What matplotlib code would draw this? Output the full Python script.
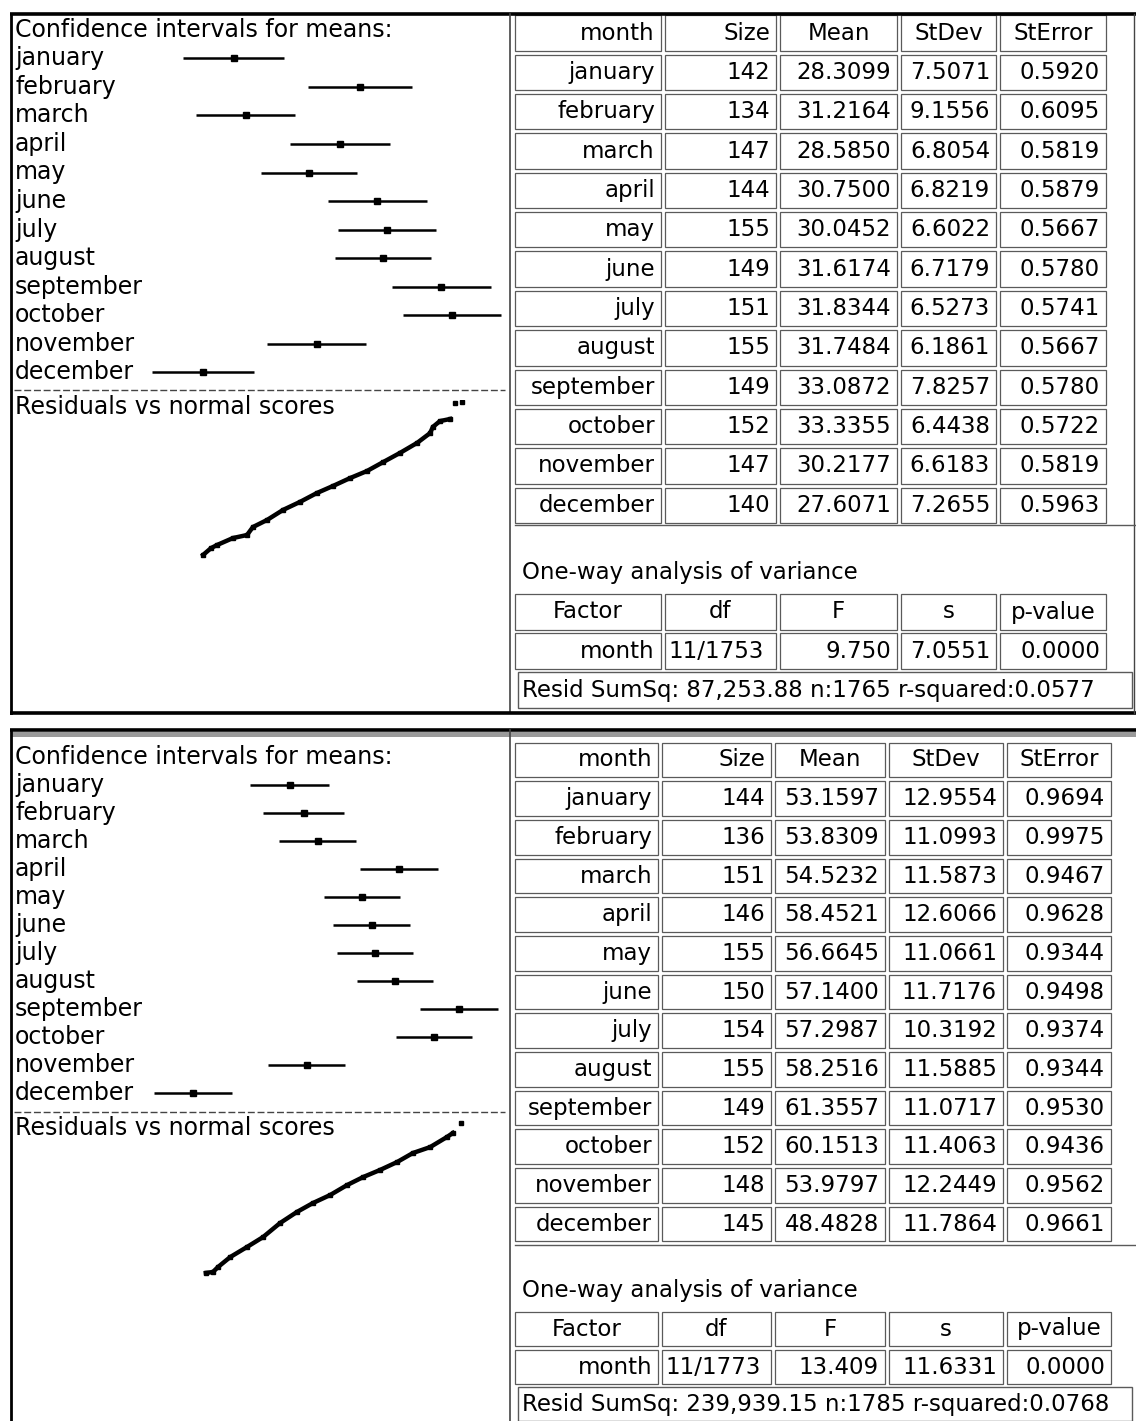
import matplotlib
matplotlib.use("Agg")
import matplotlib.pyplot as plt
from matplotlib import transforms
from matplotlib.patches import Rectangle

plt.rcParams['font.family'] = ['DejaVu Sans']

# ---------------------------------------------------------------- data
months = ["january", "february", "march", "april", "may", "june", "july",
          "august", "september", "october", "november", "december"]
table_headers = ["month", "Size", "Mean", "StDev", "StError"]
anova_headers = ["Factor", "df", "F", "s", "p-value"]

# first analysis
a_size = [142, 134, 147, 144, 155, 149, 151, 155, 149, 152, 147, 140]
a_mean = [28.3099, 31.2164, 28.5850, 30.7500, 30.0452, 31.6174, 31.8344,
          31.7484, 33.0872, 33.3355, 30.2177, 27.6071]
a_sd = [7.5071, 9.1556, 6.8054, 6.8219, 6.6022, 6.7179, 6.5273, 6.1861,
        7.8257, 6.4438, 6.6183, 7.2655]
a_se = [0.5920, 0.6095, 0.5819, 0.5879, 0.5667, 0.5780, 0.5741, 0.5667,
        0.5780, 0.5722, 0.5819, 0.5963]
a_anova = ["11/1753", 9.750, 7.0551, 0.0000]
a_resid = ["87,253.88", 1765, 0.0577]
# residuals vs normal scores (normal score, residual)
a_qq_z = [-3.30, -3.10, -2.95, -2.54, -2.18, -2.03, -1.67, -1.26, -0.83, -0.40,
          0.01, 0.45, 0.88, 1.29, 1.72, 2.16, 2.49, 2.56, 2.74, 3.00, 3.12, 3.30]
a_qq_r = [-22.5, -20.3, -19.3, -17.0, -16.0, -13.4, -11.1, -7.8, -5.2, -2.3,
          0.0, 2.6, 4.9, 7.8, 10.8, 14.1, 17.3, 19.3, 21.2, 21.9, 27.1, 27.5]

# second analysis
b_size = [144, 136, 151, 146, 155, 150, 154, 155, 149, 152, 148, 145]
b_mean = [53.1597, 53.8309, 54.5232, 58.4521, 56.6645, 57.1400, 57.2987,
          58.2516, 61.3557, 60.1513, 53.9797, 48.4828]
b_sd = [12.9554, 11.0993, 11.5873, 12.6066, 11.0661, 11.7176, 10.3192,
        11.5885, 11.0717, 11.4063, 12.2449, 11.7864]
b_se = [0.9694, 0.9975, 0.9467, 0.9628, 0.9344, 0.9498, 0.9374, 0.9344,
        0.9530, 0.9436, 0.9562, 0.9661]
b_anova = ["11/1773", 13.409, 11.6331, 0.0000]
b_resid = ["239,939.15", 1785, 0.0768]
b_qq_z = [-3.23, -3.05, -2.92, -2.61, -2.18, -1.77, -1.34, -0.91, -0.50, -0.06,
          0.37, 0.78, 1.21, 1.65, 2.05, 2.49, 2.92, 3.07, 3.28]
b_qq_r = [-40.8, -40.3, -37.7, -32.5, -27.2, -22.0, -14.7, -8.9, -4.2, 0.0,
          5.2, 9.4, 13.1, 17.3, 22.0, 25.1, 30.4, 32.5, 37.7]

# ---------------------------------------------------------------- layout
W, H = 1136, 1421
fig = plt.figure(figsize=(W / 100, H / 100), dpi=100)
bg = fig.add_axes([0, 0, 1, 1])
bg.set_xlim(0, W)
bg.set_ylim(H, 0)
bg.axis('off')

LEFT_FS = 17
TAB_FS = 16.5
EDGE = '#5a5a5a'


def px_axes(x0, y0, x1, y1):
    ax = fig.add_axes([x0 / W, 1 - y1 / H, (x1 - x0) / W, (y1 - y0) / H])
    ax.patch.set_alpha(0)
    ax.axis('off')
    return ax


def cell(x0, x1, yc, h):
    bg.add_patch(Rectangle((x0, yc - h / 2), x1 - x0, h, fill=False,
                           ec=EDGE, lw=0.9))


def draw_panel(L, size, mean, sd, se, anova, resid, qq_z, qq_r, n_out):
    top, bot = L['top'], L['bot']
    # frame
    bg.plot([10, W], [top, top], color='black', lw=2.6, solid_capstyle='butt')
    bg.plot([11, 11], [top, bot], color='black', lw=2.0)
    bg.plot([510, 510], [top, bot], color='#444444', lw=1.2)
    if L['frame_bottom']:
        bg.plot([10, W], [bot, bot], color='black', lw=2.6, solid_capstyle='butt')
        bg.plot([W - 2, W - 2], [top, bot], color='#444444', lw=1.0)
    if L['band']:
        bg.add_patch(Rectangle((12, top + 2), W - 12, 5, color='#9a9a9a', lw=0))

    # ---- confidence intervals
    bg.text(15, L['ci_title'], "Confidence intervals for means:",
            fontsize=LEFT_FS, ha='left', va='center')
    y0, p = L['ci_y0'], L['ci_pitch']
    ax = px_axes(140, y0 - p / 2, 505, y0 + 11.5 * p)
    ax.set_xlim(*L['ci_xlim'])
    ax.set_ylim(11.5, -0.5)
    rows = list(range(len(months)))
    half = [1.96 * e for e in se]
    ax.errorbar(mean, rows, xerr=half, fmt='s', ms=5, color='black',
                elinewidth=1.8, capsize=0)
    tr = transforms.blended_transform_factory(bg.transData, ax.transData)
    for i, m in enumerate(months):
        ax.text(15, i, m, transform=tr, fontsize=LEFT_FS, ha='left',
                va='center', clip_on=False)

    # separator and residual plot
    bg.plot([14, 505], [L['sep'], L['sep']], color='#444444', lw=1.0,
            linestyle=(0, (5, 2)))
    bg.text(15, L['qq_title'], "Residuals vs normal scores",
            fontsize=LEFT_FS, ha='left', va='center')
    q = px_axes(160, L['qq_box'][0], 505, L['qq_box'][1])
    q.set_xlim(-4.4, 4.4)
    q.set_ylim(*L['qq_ylim'])
    q.plot(qq_z[:-n_out], qq_r[:-n_out], color='black', lw=3.2,
           solid_joinstyle='round')
    q.plot(qq_z, qq_r, 's', ms=2.6, color='black')

    # ---- summary table
    cols = L['cols']
    ty0, tp = L['tab_y0'], L['tab_pitch']
    ch = tp - 4
    for j, (x0, x1) in enumerate(cols):
        cell(x0, x1, ty0, ch)
        name = table_headers[j]
        if j < 2:
            bg.text(x1 - 6, ty0, name, fontsize=TAB_FS, ha='right', va='center')
        else:
            bg.text((x0 + x1) / 2, ty0, name, fontsize=TAB_FS, ha='center',
                    va='center')
    for i, m in enumerate(months):
        yc = ty0 + (i + 1) * tp
        vals = [m, f"{size[i]}", f"{mean[i]:.4f}", f"{sd[i]:.4f}", f"{se[i]:.4f}"]
        for j, (x0, x1) in enumerate(cols):
            cell(x0, x1, yc, ch)
            bg.text(x1 - 6, yc, vals[j], fontsize=TAB_FS, ha='right',
                    va='center')

    # ---- analysis of variance
    bg.plot([515, W], [L['line1'], L['line1']], color=EDGE, lw=1.0)
    bg.text(522, L['an_title'], "One-way analysis of variance",
            fontsize=TAB_FS, ha='left', va='center')
    yh, yr = L['an_head'], L['an_row']
    for j, (x0, x1) in enumerate(cols):
        cell(x0, x1, yh, ch)
        bg.text((x0 + x1) / 2, yh, anova_headers[j], fontsize=TAB_FS,
                ha='center', va='center')
    row = ["month", anova[0], f"{anova[1]:.3f}", f"{anova[2]:.4f}",
           f"{anova[3]:.4f}"]
    for j, (x0, x1) in enumerate(cols):
        cell(x0, x1, yr, ch)
        if j == 1:
            bg.text(x0 + 3, yr, row[j], fontsize=TAB_FS, ha='left', va='center')
        else:
            bg.text(x1 - 6, yr, row[j], fontsize=TAB_FS, ha='right',
                    va='center')
    bg.add_patch(Rectangle((518, L['line2']), W - 4 - 518,
                           L['resid_bot'] - L['line2'], fill=False, ec=EDGE,
                           lw=1.0))
    bg.text(522, L['resid_y'],
            f"Resid SumSq: {resid[0]} n:{resid[1]} r-squared:{resid[2]:.4f}",
            fontsize=TAB_FS, ha='left', va='center')


upper = dict(top=14, bot=713, frame_bottom=True, band=False,
             ci_title=30, ci_y0=58.3, ci_pitch=28.55,
             ci_xlim=(26.159, 34.550),
             sep=390, qq_title=407, qq_box=(400, 700), qq_ylim=(-69.9, 28.1),
             cols=[(515, 661), (665, 776), (780, 897), (901, 996), (1000, 1106)],
             tab_y0=33, tab_pitch=39.36,
             line1=525, an_title=573, an_head=612, an_row=651,
             line2=672, resid_y=690, resid_bot=708)

lower = dict(top=730, bot=1421, frame_bottom=False, band=True,
             ci_title=757, ci_y0=785, ci_pitch=28.0,
             ci_xlim=(45.917, 63.584),
             sep=1112, qq_title=1128, qq_box=(1120, 1415),
             qq_ylim=(-115.2, 39.3),
             cols=[(515, 658), (662, 771), (775, 885), (889, 1003), (1007, 1111)],
             tab_y0=760, tab_pitch=38.67,
             line1=1245, an_title=1290, an_head=1329, an_row=1367,
             line2=1387, resid_y=1404, resid_bot=1421)

draw_panel(upper, a_size, a_mean, a_sd, a_se, a_anova, a_resid,
           a_qq_z, a_qq_r, 2)
draw_panel(lower, b_size, b_mean, b_sd, b_se, b_anova, b_resid,
           b_qq_z, b_qq_r, 1)

fig.savefig("out.png", dpi=100, facecolor='white')
